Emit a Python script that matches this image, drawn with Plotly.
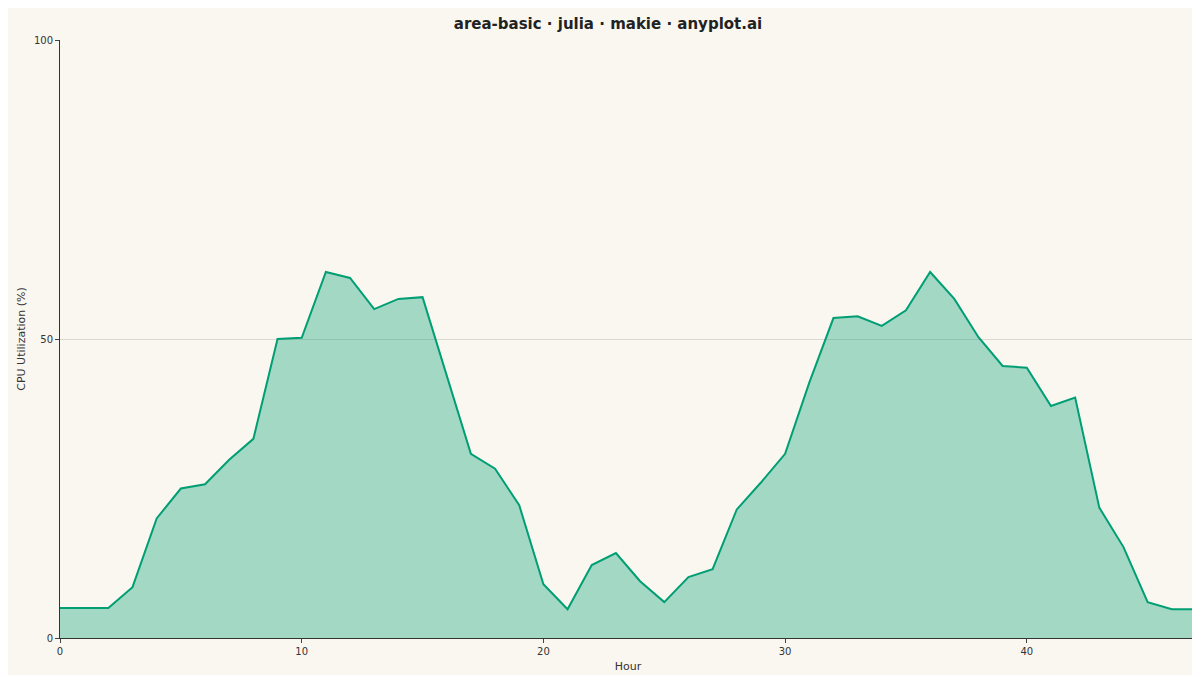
import plotly.graph_objects as go

hours = list(range(48))
cpu = [5, 5, 5, 8.5, 20, 25, 25.7, 29.8, 33.3, 50, 50.2, 61.2, 60.2, 55, 56.7, 57,
       43.7, 30.8, 28.3, 22.2, 9, 4.8, 12.2, 14.2, 9.5, 6, 10.2, 11.5, 21.5, 26,
       30.8, 42.7, 53.5, 53.8, 52.2, 54.8, 61.2, 56.7, 50.3, 45.5, 45.2, 38.8,
       40.2, 21.8, 15.2, 6, 4.8, 4.8]

bg = "#FAF7F1"
fig = go.Figure()
fig.add_trace(go.Scatter(
    x=hours, y=cpu, mode="lines", fill="tozeroy",
    line=dict(color="#009E73", width=2),
    fillcolor="rgba(0,158,115,0.35)",
    showlegend=False,
))

fig.update_layout(
    width=1200, height=675,
    paper_bgcolor=bg, plot_bgcolor=bg,
    margin=dict(l=50, r=12, t=32, b=43),
    font=dict(family="DejaVu Sans", size=10, color="#333"),
    title=dict(text="<b>area-basic · julia · makie · anyplot.ai</b>",
               x=0.5, y=0.985, yanchor="top", font=dict(size=15, color="#222")),
    xaxis=dict(title=dict(text="Hour", font=dict(size=11), standoff=6),
               range=[0, 47], tickvals=[0, 10, 20, 30, 40],
               showgrid=False, zeroline=False, showline=True,
               linecolor="#333", ticks="outside", ticklen=4),
    yaxis=dict(title=dict(text="CPU Utilization (%)", font=dict(size=11), standoff=6),
               range=[0, 100], tickvals=[0, 50, 100],
               showgrid=True, gridcolor="#dcd8d0", zeroline=False,
               showline=True, linecolor="#333", ticks="outside", ticklen=4),
)

fig.write_html("out.html")
